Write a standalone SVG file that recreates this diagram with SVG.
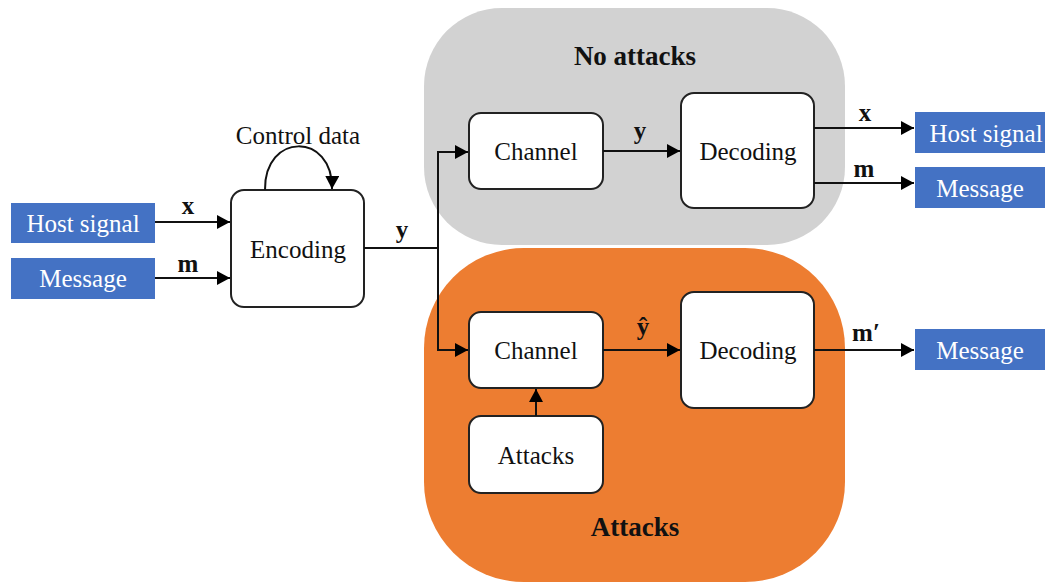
<svg xmlns="http://www.w3.org/2000/svg" width="1045" height="583" viewBox="0 0 1045 583">
<defs>
<marker id="arr" markerUnits="userSpaceOnUse" markerWidth="14" markerHeight="14" viewBox="0 0 14 14" refX="13" refY="7" orient="auto">
<path d="M0,0 L13,7 L0,14 Z" fill="#000"/>
</marker>
<style>
text{font-family:"Liberation Serif","Times New Roman",serif;text-anchor:middle;dominant-baseline:central}
.box{fill:#fff;stroke:#222;stroke-width:2}
.blue{fill:#4472C4}
.t{font-size:25px;fill:#111}
.w{font-size:25px;fill:#fff}
.b{font-size:27px;font-weight:bold;fill:#111}
.m{font-size:25px;font-weight:bold;fill:#111}
.c{fill:none;stroke:#111;stroke-width:2}
</style>
</defs>
<g id="region-no-attacks">
<rect x="424" y="8" width="421" height="237" rx="78" fill="#D2D2D2"/>
<text class="b" x="635" y="56">No attacks</text>
</g>
<g id="region-attacks">
<rect x="424" y="248" width="421" height="334" rx="100" fill="#ED7D31"/>
<text class="b" x="635" y="527">Attacks</text>
</g>
<g id="host-in"><rect class="blue" x="11" y="203" width="144" height="40"/><text class="w" x="83" y="223">Host signal</text></g>
<g id="message-in"><rect class="blue" x="11" y="258" width="144" height="41"/><text class="w" x="83" y="278">Message</text></g>
<g id="encoding"><rect class="box" x="231" y="190" width="133" height="117" rx="13"/><text class="t" x="298" y="249">Encoding</text></g>
<g id="channel-1"><rect class="box" x="469" y="113" width="134" height="76" rx="12"/><text class="t" x="536" y="151">Channel</text></g>
<g id="decoding-1"><rect class="box" x="681" y="93" width="133" height="115" rx="13"/><text class="t" x="748" y="151">Decoding</text></g>
<g id="host-out"><rect class="blue" x="915" y="112" width="130" height="41"/><text class="w" x="986" y="133">Host signal</text></g>
<g id="message-out-1"><rect class="blue" x="915" y="167" width="130" height="41"/><text class="w" x="980" y="188">Message</text></g>
<g id="channel-2"><rect class="box" x="469" y="312" width="134" height="76" rx="12"/><text class="t" x="536" y="350">Channel</text></g>
<g id="attacks"><rect class="box" x="469" y="416" width="134" height="77" rx="12"/><text class="t" x="536" y="455">Attacks</text></g>
<g id="decoding-2"><rect class="box" x="681" y="292" width="133" height="116" rx="13"/><text class="t" x="748" y="350">Decoding</text></g>
<g id="message-out-2"><rect class="blue" x="915" y="329" width="130" height="41"/><text class="w" x="980" y="350">Message</text></g>
<g id="connectors">
<line class="c" x1="155" y1="222" x2="230" y2="222" marker-end="url(#arr)"/>
<line class="c" x1="155" y1="278" x2="230" y2="278" marker-end="url(#arr)"/>
<path class="c" d="M265,190 C264,132 333,132 332,189" marker-end="url(#arr)"/>
<path class="c" d="M364,248 H438 M438,151 V351"/>
<line class="c" x1="437" y1="152" x2="468" y2="152" marker-end="url(#arr)"/>
<line class="c" x1="437" y1="350" x2="468" y2="350" marker-end="url(#arr)"/>
<line class="c" x1="603" y1="151" x2="680" y2="151" marker-end="url(#arr)"/>
<line class="c" x1="814" y1="128" x2="914" y2="128" marker-end="url(#arr)"/>
<line class="c" x1="814" y1="183" x2="914" y2="183" marker-end="url(#arr)"/>
<line class="c" x1="603" y1="350" x2="680" y2="350" marker-end="url(#arr)"/>
<line class="c" x1="814" y1="350" x2="914" y2="350" marker-end="url(#arr)"/>
<line class="c" x1="536" y1="416" x2="536" y2="389" marker-end="url(#arr)"/>
<text class="t" x="298" y="135">Control data</text>
<text class="m" x="188" y="205">x</text>
<text class="m" x="188" y="263">m</text>
<text class="m" x="402" y="229">y</text>
<text class="m" x="640" y="130">y</text>
<text class="m" x="865" y="112">x</text>
<text class="m" x="864" y="168">m</text>
<text class="m" x="643" y="326">ŷ</text>
<text class="m" x="866" y="332">m′</text>
</g>
</svg>
